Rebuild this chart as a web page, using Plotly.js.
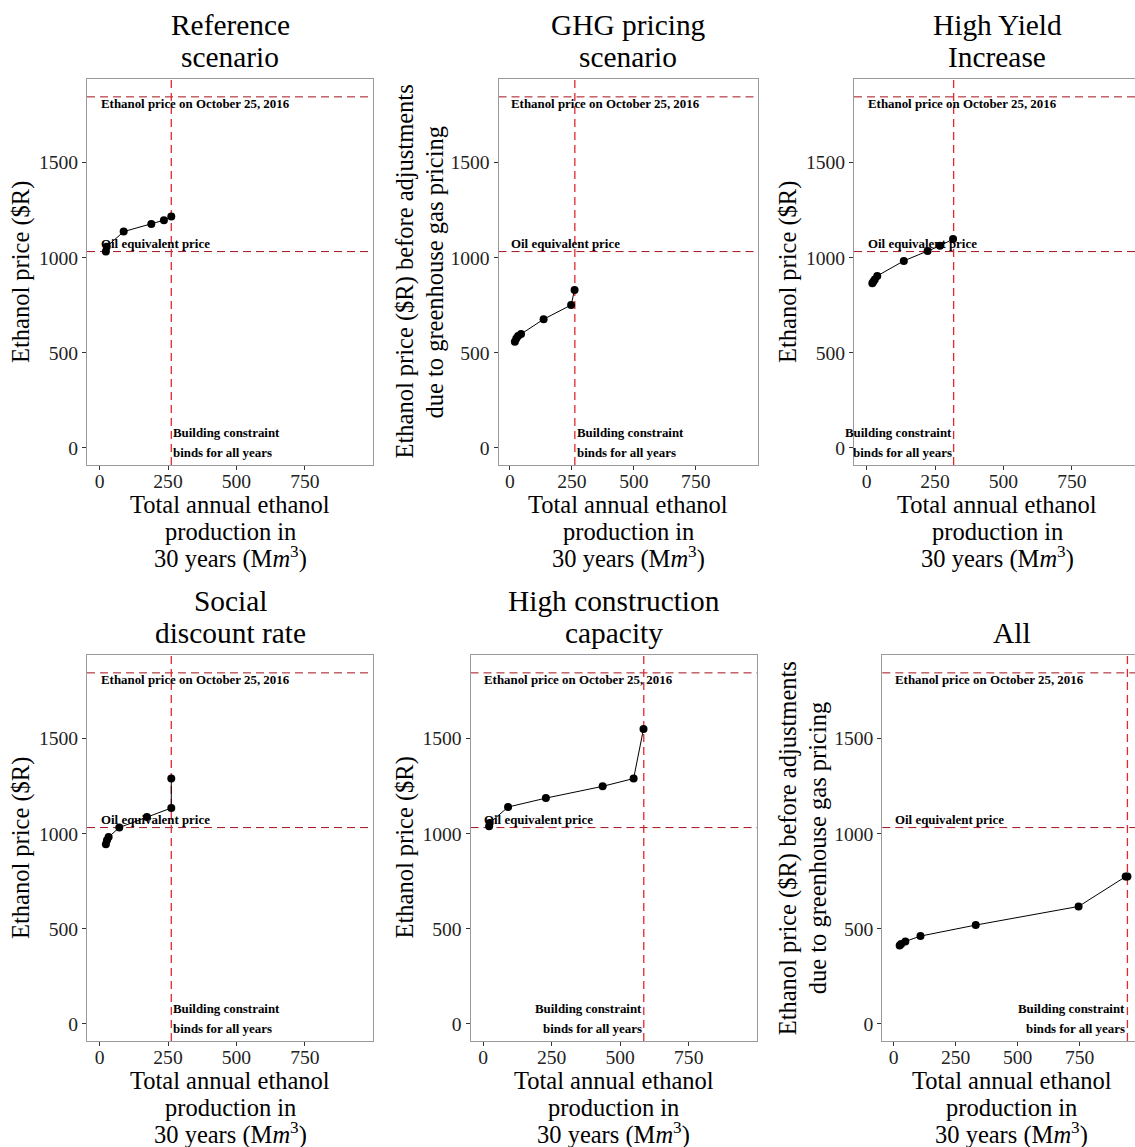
<!DOCTYPE html>
<html><head><meta charset="utf-8">
<script src="https://cdn.plot.ly/plotly-3.0.1.min.js"></script>
<style>html,body{margin:0;padding:0;background:#fff}</style>
</head><body><div id="chart" style="width:1135px;height:1147px"></div>
<script>
// ---------------- DATA ----------------
const panelTitles = [["Reference","scenario"],["GHG pricing","scenario"],["High Yield","Increase"],
                     ["Social","discount rate"],["High construction","capacity"],["All"]];
const yTitleShort = ["Ethanol price ($R)"];
const yTitleLong = ["Ethanol price ($R) before adjustments","due to greenhouse gas pricing"];
const xTitleLines = ["Total annual ethanol","production in","30 years (M<i>m</i><sup>3</sup>)"];

const referenceX = [23, 26, 88, 189, 235, 262];
const referenceY = [1032, 1058, 1137, 1177, 1197, 1216];
const ghgX = [20, 26, 33, 45, 136, 247, 261];
const ghgY = [558, 574, 588, 598, 676, 751, 830];
const highYieldX = [21, 25, 30, 39, 136, 223, 268, 316];
const highYieldY = [865, 875, 885, 904, 983, 1035, 1062, 1098];
const socialX = [23, 27, 33, 72, 173, 262, 262];
const socialY = [944, 965, 982, 1032, 1087, 1135, 1290];
const constructionX = [22, 24, 91, 229, 436, 549, 585];
const constructionY = [1039, 1056, 1140, 1187, 1249, 1290, 1551];
const allX = [24, 30, 47, 108, 331, 746, 936, 943];
const allY = [412, 420, 433, 461, 519, 617, 774, 774];

const ethanolPriceOct2016 = 1846;
const oilEquivalentPrice = 1032;
const constraintX = [262, 262, 318, 262, 586, 943];
const constraintAlign = ["left","left","right","left","right","right"];

const xTickVals = [0, 250, 500, 750];
const yTickVals = [0, 500, 1000, 1500];

const seriesX = [referenceX, ghgX, highYieldX, socialX, constructionX, allX];
const seriesY = [referenceY, ghgY, highYieldY, socialY, constructionY, allY];
const yTitles = [yTitleShort, yTitleLong, yTitleShort, yTitleShort, yTitleShort, yTitleLong];

// ---------------- LAYOUT GEOMETRY ----------------
const W = 1135, H = 1147;
const panels = [
  {left:87,    right:373,  full:373,    top:79,  bottom:465},
  {left:498.5, right:757.5,full:757.5,  top:79,  bottom:465},
  {left:854,   right:1135, full:1140,   top:79,  bottom:465},
  {left:87,    right:373,  full:373,    top:655, bottom:1041},
  {left:470.5, right:757,  full:757,    top:655, bottom:1041},
  {left:882.3, right:1135, full:1141.3, top:655, bottom:1041}
];
const xMin = -46, xMaxFull = 999, yRange = [-91, 1940];
const px = v => v / W;
const py = v => 1 - v / H;

const SERIF = "Liberation Serif, Times New Roman, serif";
const traces = [], shapes = [], annotations = [];
const layout = {
  width: W, height: H, margin:{l:0,r:0,t:0,b:0},
  paper_bgcolor:"#fff", plot_bgcolor:"#fff", showlegend:false,
  font:{family:SERIF, color:"#000"}
};

panels.forEach((p, i) => {
  const n = i + 1;
  const xa = "xaxis" + (n === 1 ? "" : n), ya = "yaxis" + (n === 1 ? "" : n);
  const xr = "x" + (n === 1 ? "" : n), yr = "y" + (n === 1 ? "" : n);
  const scale = (p.full - p.left) / (xMaxFull - xMin);
  const xMax = xMin + (p.right - p.left) / scale;
  const truncated = p.right < p.full;
  layout[xa] = {
    domain:[px(p.left), px(p.right)], range:[xMin, xMax], anchor:yr,
    showgrid:false, zeroline:false, showline:true, mirror:true, linecolor:"#9a9a9a", linewidth:1,
    ticks:"outside", ticklen:4, tickcolor:"#333", tickwidth:1, ticklabelstandoff:-6,
    tickvals:xTickVals, ticktext:xTickVals.map(String),
    tickfont:{family:SERIF, size:19.6, color:"#222"}
  };
  layout[ya] = {
    domain:[py(p.bottom), py(p.top)], range:yRange, anchor:xr,
    showgrid:false, zeroline:false, showline:true, mirror:!truncated, linecolor:"#9a9a9a", linewidth:1,
    ticks:"outside", ticklen:4, tickcolor:"#333", tickwidth:1,
    tickvals:yTickVals, ticktext:yTickVals.map(String),
    tickfont:{family:SERIF, size:19.6, color:"#222"}
  };

  // reference lines
  [ethanolPriceOct2016, oilEquivalentPrice].forEach(v => shapes.push({
    type:"line", xref:xr + " domain", yref:yr, x0:0, x1:1, y0:v, y1:v,
    line:{color:"rgb(165,18,28)", width:1, dash:"8px,5px"}, layer:"below"
  }));
  shapes.push({
    type:"line", xref:xr, yref:yr + " domain", x0:constraintX[i], x1:constraintX[i], y0:0, y1:1,
    line:{color:"rgb(226,40,44)", width:1.3, dash:"8px,5px"}, layer:"below"
  });

  // data
  traces.push({
    type:"scatter", mode:"lines+markers", x:seriesX[i], y:seriesY[i], xaxis:xr, yaxis:yr,
    line:{color:"#000", width:1}, marker:{color:"#000", size:8}, cliponaxis:false, hoverinfo:"skip"
  });

  // in-plot labels
  const lab = {font:{family:SERIF, size:12.9, color:"#000"}, showarrow:false, xref:xr, yref:yr, borderpad:0};
  annotations.push(Object.assign({}, lab, {text:"<b>Ethanol price on October 25, 2016</b>", x:0, y:1808, xanchor:"left", yanchor:"middle"}));
  annotations.push(Object.assign({}, lab, {text:"<b>Oil equivalent price</b>", x:0, y:1074, xanchor:"left", yanchor:"middle"}));
  const cx = constraintX[i], al = constraintAlign[i];
  annotations.push(Object.assign({}, lab, {text:"<b>Building constraint</b>", x:cx, y:77, xanchor:al, yanchor:"middle", xshift: al === "left" ? 1 : -1}));
  annotations.push(Object.assign({}, lab, {text:"<b>binds for all years</b>", x:cx, y:-28, xanchor:al, yanchor:"middle", xshift: al === "left" ? 1 : -1}));

  // panel titles
  const rowOff = p.top - 79;
  const cxPx = (p.left + p.full) / 2;
  const tl = panelTitles[i];
  const tCenters = tl.length === 2 ? [25, 57] : [57];
  tl.forEach((t, k) => annotations.push({
    text:t, xref:"paper", yref:"paper", x:px(cxPx), y:py(tCenters[k] + rowOff),
    xanchor:"center", yanchor:"middle", showarrow:false, borderpad:0,
    font:{family:SERIF, size:29.4, color:"#000"}
  }));

  // x title
  const xtCenters = [504, 531, 557.5];
  xTitleLines.forEach((t, k) => annotations.push({
    text:t, xref:"paper", yref:"paper", x:px(cxPx), y:py(xtCenters[k] + rowOff),
    xanchor:"center", yanchor:"middle", showarrow:false, borderpad:0,
    font:{family:SERIF, size:24.5, color:"#000"}
  }));

  // y title
  const yl = yTitles[i];
  const offs = yl.length === 2 ? [-94, -65] : [-66];
  const yc = (p.top + p.bottom) / 2;
  yl.forEach((t, k) => annotations.push({
    text:t, xref:"paper", yref:"paper", x:px(p.left + offs[k]), y:py(yc),
    xanchor:"center", yanchor:"middle", textangle:-90, showarrow:false, borderpad:0,
    font:{family:SERIF, size:24.5, color:"#000"}
  }));
});

layout.shapes = shapes;
layout.annotations = annotations;
Plotly.newPlot("chart", traces, layout, {staticPlot:true, displayModeBar:false});
</script>
</body></html>
